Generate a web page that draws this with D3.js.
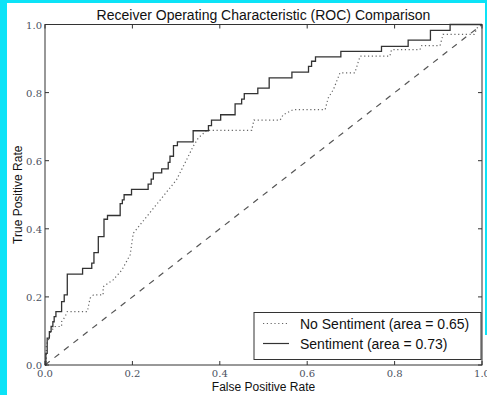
<!DOCTYPE html>
<html>
<head>
<meta charset="utf-8">
<script src="https://cdn.jsdelivr.net/npm/d3@7"></script>
<style>
  body { margin: 0; background: #fff; }
  svg { display: block; }
</style>
</head>
<body>
<svg id="chart" width="487" height="395"></svg>
<script>
// ROC points
const noSentFpr = [0, 0.003, 0.003, 0.008, 0.013, 0.023, 0.038, 0.038, 0.046, 0.051, 0.097, 0.103, 0.111, 0.133, 0.133, 0.156, 0.176, 0.195, 0.202, 0.301, 0.328, 0.339, 0.351, 0.370, 0.473, 0.478, 0.538, 0.545, 0.568, 0.641, 0.648, 0.660, 0.675, 0.709, 0.721, 0.789, 0.793, 0.858, 0.862, 0.904, 0.911, 0.982, 0.989, 1];
const noSentTpr = [0, 0, 0.059, 0.074, 0.098, 0.113, 0.113, 0.127, 0.142, 0.157, 0.157, 0.196, 0.206, 0.206, 0.230, 0.250, 0.279, 0.324, 0.387, 0.544, 0.613, 0.642, 0.667, 0.689, 0.689, 0.719, 0.719, 0.735, 0.750, 0.750, 0.784, 0.809, 0.858, 0.858, 0.907, 0.907, 0.926, 0.926, 0.938, 0.938, 0.971, 0.971, 0.99, 1];

const sentFpr = [0, 0.002, 0.005, 0.010, 0.014, 0.018, 0.021, 0.025, 0.038, 0.044, 0.051, 0.086, 0.107, 0.112, 0.122, 0.135, 0.143, 0.172, 0.177, 0.181, 0.198, 0.236, 0.243, 0.248, 0.267, 0.282, 0.286, 0.294, 0.303, 0.339, 0.374, 0.381, 0.402, 0.435, 0.450, 0.456, 0.487, 0.513, 0.565, 0.603, 0.610, 0.619, 0.677, 0.770, 0.831, 0.882, 0.927, 1];
const sentTpr = [0, 0.034, 0.079, 0.098, 0.113, 0.127, 0.142, 0.157, 0.186, 0.206, 0.267, 0.284, 0.299, 0.330, 0.377, 0.428, 0.439, 0.474, 0.485, 0.500, 0.516, 0.531, 0.546, 0.564, 0.576, 0.595, 0.613, 0.644, 0.655, 0.688, 0.703, 0.719, 0.735, 0.767, 0.781, 0.797, 0.813, 0.843, 0.860, 0.877, 0.892, 0.905, 0.921, 0.936, 0.954, 0.983, 1.0, 1.0];

const ticks = [0, 0.2, 0.4, 0.6, 0.8, 1.0];
const legendLabels = ["No Sentiment (area = 0.65)", "Sentiment (area = 0.73)"];

const svg = d3.select("#chart");
const plotLeft = 45, plotRight = 482, plotTop = 24.5, plotBottom = 365;

const x = d3.scaleLinear().domain([0, 1]).range([plotLeft, plotRight]);
const y = d3.scaleLinear().domain([0, 1]).range([plotBottom, plotTop]);

svg.append("rect").attr("width", 487).attr("height", 395).attr("fill", "#fff");

// chance line
svg.append("line")
  .attr("x1", x(0)).attr("y1", y(0))
  .attr("x2", x(1)).attr("y2", y(1))
  .attr("stroke", "#555")
  .attr("stroke-width", 1.2)
  .attr("stroke-dasharray", "6,6");

const noSent = noSentFpr.map((f, i) => [f, noSentTpr[i]]);
const sent = sentFpr.map((f, i) => [f, sentTpr[i]]);

const line = d3.line().x(d => x(d[0])).y(d => y(d[1]));
const stepLine = d3.line().x(d => x(d[0])).y(d => y(d[1])).curve(d3.curveStepAfter);

svg.append("path")
  .attr("d", line(noSent))
  .attr("fill", "none")
  .attr("stroke", "#666")
  .attr("stroke-width", 1.2)
  .attr("stroke-dasharray", "1.2,2.6");

svg.append("path")
  .attr("d", stepLine(sent))
  .attr("fill", "none")
  .attr("stroke", "#333")
  .attr("stroke-width", 1.3);

// frame
svg.append("rect")
  .attr("x", plotLeft).attr("y", plotTop)
  .attr("width", plotRight - plotLeft).attr("height", plotBottom - plotTop)
  .attr("fill", "none")
  .attr("stroke", "#333")
  .attr("stroke-width", 1);

// inward ticks on all four sides
const tickLen = 4;
const tg = svg.append("g").attr("stroke", "#333").attr("stroke-width", 1);
ticks.forEach(t => {
  tg.append("line").attr("x1", x(t)).attr("x2", x(t)).attr("y1", plotBottom).attr("y2", plotBottom - tickLen);
  tg.append("line").attr("x1", x(t)).attr("x2", x(t)).attr("y1", plotTop).attr("y2", plotTop + tickLen);
  tg.append("line").attr("y1", y(t)).attr("y2", y(t)).attr("x1", plotLeft).attr("x2", plotLeft + tickLen);
  tg.append("line").attr("y1", y(t)).attr("y2", y(t)).attr("x1", plotRight).attr("x2", plotRight - tickLen);
});

const serif = "'DejaVu Serif', 'Liberation Serif', serif";
const sans = "'Liberation Sans', Arial, sans-serif";

svg.append("g").selectAll("text").data(ticks).join("text")
  .attr("x", d => x(d)).attr("y", plotBottom + 11.5)
  .attr("text-anchor", "middle")
  .attr("font-family", serif).attr("font-size", 10)
  .attr("fill", "#4a5060")
  .text(d => d.toFixed(1));

svg.append("g").selectAll("text").data(ticks).join("text")
  .attr("x", plotLeft - 3).attr("y", d => y(d) + 4)
  .attr("text-anchor", "end")
  .attr("font-family", serif).attr("font-size", 10)
  .attr("fill", "#4a5060")
  .text(d => d.toFixed(1));

svg.append("text")
  .attr("x", (plotLeft + plotRight) / 2).attr("y", 20)
  .attr("text-anchor", "middle")
  .attr("font-family", sans).attr("font-size", 14)
  .attr("fill", "#111")
  .text("Receiver Operating Characteristic (ROC) Comparison");

svg.append("text")
  .attr("x", (plotLeft + plotRight) / 2).attr("y", 390.5)
  .attr("text-anchor", "middle")
  .attr("font-family", sans).attr("font-size", 12)
  .attr("fill", "#111")
  .text("False Positive Rate");

svg.append("text")
  .attr("transform", `translate(22,${(plotTop + plotBottom) / 2}) rotate(-90)`)
  .attr("text-anchor", "middle")
  .attr("font-family", sans).attr("font-size", 12)
  .attr("fill", "#111")
  .text("True Positive Rate");

// legend
const lg = svg.append("g");
lg.append("rect")
  .attr("x", 254).attr("y", 312.5)
  .attr("width", 227).attr("height", 47)
  .attr("fill", "#fff")
  .attr("stroke", "#333").attr("stroke-width", 1);

const legendStyles = [
  { stroke: "#666", dash: "1.2,2.6" },
  { stroke: "#333", dash: null }
];
legendLabels.forEach((lab, i) => {
  const ly = 323.5 + i * 20;
  lg.append("line")
    .attr("x1", 263).attr("x2", 289)
    .attr("y1", ly).attr("y2", ly)
    .attr("stroke", legendStyles[i].stroke)
    .attr("stroke-width", 1.2)
    .attr("stroke-dasharray", legendStyles[i].dash);
  lg.append("text")
    .attr("x", 300).attr("y", ly + 5)
    .attr("font-family", sans).attr("font-size", 14)
    .attr("fill", "#111")
    .text(lab);
});

// cyan edge strips
svg.append("rect").attr("x", 0).attr("y", 0).attr("width", 7).attr("height", 395).attr("fill", "#0ce3f7");
svg.append("rect").attr("x", 0).attr("y", 0).attr("width", 487).attr("height", 3).attr("fill", "#0ce3f7");
svg.append("rect").attr("x", 485).attr("y", 0).attr("width", 2).attr("height", 335).attr("fill", "#0ce3f7");
</script>
</body>
</html>
